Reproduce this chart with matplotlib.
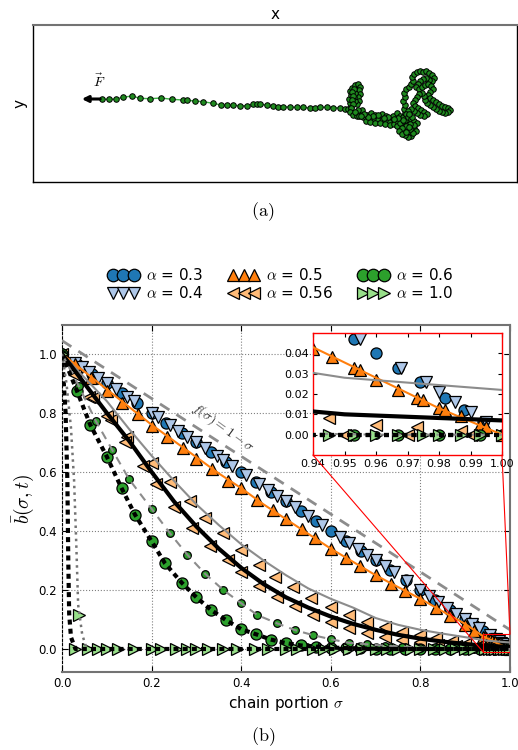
import matplotlib
matplotlib.use('Agg')
import matplotlib.pyplot as plt
from matplotlib.lines import Line2D
from matplotlib.patches import Rectangle, ConnectionPatch

plt.rcParams['mathtext.fontset'] = 'cm'

# ---- panel (a): snapshot of the pulled chain (arbitrary units) ----
stretch_x = [102, 109, 116, 123, 132, 140, 150, 161, 172, 183, 187, 195, 203, 213, 221, 227,
             233, 240, 247, 253, 257, 260, 267, 273, 278, 283, 290, 297, 303, 310, 315, 320,
             327, 333, 340, 345]
stretch_y = [99, 99.3, 99, 97.3, 96, 98.3, 98.7, 98, 99.3, 100, 100.3, 101, 101.7, 103.3, 105,
             105.3, 105.3, 105.7, 105.7, 104.3, 103.7, 104.3, 105, 106, 106.7, 106.7, 107, 107.3,
             107.3, 108, 107.7, 107.3, 107, 107.5, 108, 109]
coil = [(348, 109), (351, 107), (350, 103), (349, 99), (351, 95), (350, 91), (352, 88), (355, 85),
        (358, 84), (360, 87), (359, 90), (360, 94), (358, 97), (359, 101), (357, 104), (355, 101),
        (354, 97), (355, 93), (354, 89), (352, 92), (353, 96), (352, 100), (353, 104), (351, 108),
        (350, 112), (353, 115), (357, 116), (360, 113), (362, 110), (358, 110), (355, 112),
        (359, 116), (363, 117), (367, 115), (371, 113), (375, 115), (379, 117), (382, 114),
        (386, 116), (390, 119), (393, 116), (397, 113), (400, 116), (397, 119), (393, 121),
        (389, 122), (385, 120), (381, 121), (377, 119), (373, 118), (369, 119), (366, 121),
        (370, 122), (375, 123), (380, 123), (385, 124), (390, 125), (394, 124), (398, 122),
        (402, 124), (405, 127), (407, 130), (409, 133), (411, 136), (408, 137), (405, 135),
        (403, 132), (400, 129), (397, 126), (400, 123), (404, 121), (408, 122), (411, 125),
        (414, 128), (416, 131), (413, 133), (410, 129), (407, 125), (405, 120), (403, 117),
        (405, 113), (404, 109), (405, 105), (403, 101), (405, 97), (404, 93), (406, 89),
        (409, 87), (411, 84), (413, 81), (412, 77), (414, 74), (417, 72), (420, 71), (423, 72),
        (426, 71), (429, 73), (432, 75), (434, 78), (432, 81), (429, 80), (426, 78), (423, 79),
        (420, 81), (418, 84), (416, 87), (419, 89), (422, 87), (425, 85), (428, 84), (431, 86),
        (433, 89), (430, 92), (428, 95), (430, 98), (433, 100), (436, 102), (439, 104),
        (442, 106), (445, 107), (448, 108), (450, 110), (448, 112), (445, 113), (442, 112),
        (439, 111), (436, 109), (433, 107), (430, 105), (427, 103), (425, 100), (424, 96),
        (422, 93), (419, 94), (417, 97), (415, 100), (413, 103), (415, 106), (418, 108),
        (421, 110), (424, 112), (427, 114), (424, 116), (420, 115), (417, 113), (414, 111),
        (411, 109), (408, 111), (406, 114), (408, 117), (411, 119), (414, 121), (417, 123),
        (414, 125), (410, 124), (406, 126), (402, 128), (399, 131), (402, 134), (406, 132),
        (409, 127), (412, 117), (409, 114), (403, 120), (398, 118), (394, 119), (388, 117),
        (384, 118), (378, 115), (373, 116), (368, 117), (364, 114), (361, 116)]

# ---- panel (b): b(sigma, t) ----
sig03 = [0.0, 0.033, 0.067, 0.1, 0.133, 0.167, 0.2, 0.233, 0.267, 0.3, 0.333, 0.367, 0.4, 0.433,
         0.467, 0.5, 0.533, 0.567, 0.6, 0.633, 0.667, 0.7, 0.733, 0.767, 0.8, 0.833, 0.867, 0.9,
         0.92, 0.94, 0.953, 0.96, 0.967, 0.974, 0.982, 0.988, 0.994, 1.0]
b03 = [1.0, 0.967, 0.933, 0.9, 0.867, 0.833, 0.8, 0.767, 0.733, 0.7, 0.667, 0.633, 0.6, 0.567,
       0.533, 0.5, 0.467, 0.433, 0.4, 0.367, 0.333, 0.3, 0.267, 0.233, 0.2, 0.167, 0.133, 0.1,
       0.08, 0.06, 0.047, 0.04, 0.033, 0.026, 0.018, 0.012, 0.006, 0.0]

sig04 = [0.03, 0.045, 0.06, 0.08, 0.1, 0.12, 0.145, 0.16, 0.2, 0.215, 0.24, 0.26, 0.28, 0.3,
         0.32, 0.345, 0.36, 0.38, 0.41, 0.44, 0.46, 0.48, 0.5, 0.52, 0.55, 0.58, 0.62, 0.64,
         0.66, 0.68, 0.7, 0.72, 0.74, 0.77, 0.8, 0.82, 0.84, 0.86, 0.88, 0.9, 0.915, 0.93,
         0.955, 0.968, 0.976, 0.98, 0.985, 0.99, 0.995]
b04 = [0.97, 0.955, 0.94, 0.92, 0.9, 0.88, 0.855, 0.84, 0.8, 0.785, 0.76, 0.74, 0.72, 0.7,
       0.68, 0.655, 0.64, 0.62, 0.59, 0.56, 0.54, 0.52, 0.5, 0.48, 0.45, 0.42, 0.38, 0.36,
       0.34, 0.32, 0.3, 0.28, 0.26, 0.23, 0.2, 0.18, 0.16, 0.14, 0.12, 0.1, 0.085, 0.07,
       0.047, 0.033, 0.026, 0.021, 0.016, 0.011, 0.006]

sig05 = [0.0, 0.03, 0.065, 0.1, 0.135, 0.17, 0.2, 0.235, 0.27, 0.3, 0.335, 0.37, 0.4, 0.435,
         0.47, 0.5, 0.535, 0.565, 0.6, 0.635, 0.665, 0.7, 0.735, 0.765, 0.8, 0.835, 0.865, 0.9,
         0.92, 0.94, 0.946, 0.953, 0.955, 0.96, 0.967, 0.973, 0.975, 0.98, 0.982, 0.987, 0.993,
         0.995, 1.0]
b05 = [1.0, 0.965, 0.92, 0.875, 0.835, 0.795, 0.755, 0.72, 0.68, 0.645, 0.61, 0.57, 0.545,
       0.505, 0.47, 0.44, 0.405, 0.375, 0.34, 0.31, 0.28, 0.25, 0.22, 0.195, 0.17, 0.14, 0.113,
       0.08, 0.062, 0.042, 0.038, 0.033, 0.032, 0.027, 0.022, 0.018, 0.017, 0.013, 0.012,
       0.009, 0.005, 0.004, 0.0]
sig05_fit = [0.0, 0.05, 0.1, 0.15, 0.2, 0.25, 0.3, 0.35, 0.4, 0.45, 0.5, 0.55, 0.6, 0.65, 0.7,
             0.75, 0.8, 0.85, 0.9, 0.94, 0.96, 0.98, 1.0]
b05_fit = [1.0, 0.94, 0.88, 0.82, 0.76, 0.705, 0.65, 0.595, 0.545, 0.49, 0.44, 0.39, 0.34,
           0.295, 0.25, 0.21, 0.17, 0.127, 0.085, 0.043, 0.028, 0.013, 0.0]

sig056a = [0.0, 0.06, 0.11, 0.145, 0.2, 0.24, 0.285, 0.32, 0.36, 0.4, 0.44, 0.475, 0.515,
           0.555, 0.6, 0.64, 0.68, 0.72, 0.76, 0.8, 0.835, 0.87, 0.9, 0.93, 0.945, 0.96, 0.973,
           0.987, 1.0]
b056a = [1.0, 0.855, 0.776, 0.72, 0.63, 0.565, 0.5, 0.443, 0.393, 0.336, 0.285, 0.245, 0.21,
         0.172, 0.143, 0.115, 0.093, 0.076, 0.059, 0.047, 0.036, 0.026, 0.018, 0.011, 0.008,
         0.005, 0.004, 0.002, 0.0]
sig056b = [0.03, 0.07, 0.1, 0.14, 0.18, 0.21, 0.25, 0.29, 0.33, 0.37, 0.4, 0.44, 0.48, 0.52,
           0.56, 0.6, 0.64, 0.68, 0.72, 0.76, 0.8, 0.84, 0.88, 0.92, 0.95, 0.97, 0.99]
b056b = [0.93, 0.85, 0.79, 0.7, 0.62, 0.56, 0.48, 0.41, 0.35, 0.3, 0.26, 0.215, 0.175, 0.145,
         0.115, 0.09, 0.07, 0.055, 0.04, 0.03, 0.022, 0.015, 0.01, 0.005, 0.0, 0.0, 0.0]
sig_fit = [0.0, 0.05, 0.1, 0.15, 0.2, 0.25, 0.3, 0.35, 0.4, 0.45, 0.5, 0.55, 0.6, 0.65, 0.7,
           0.75, 0.8, 0.85, 0.9, 0.95, 1.0]
b056a_fit = [1.0, 0.92, 0.84, 0.745, 0.655, 0.57, 0.49, 0.42, 0.355, 0.3, 0.25, 0.205, 0.17,
             0.14, 0.105, 0.082, 0.065, 0.052, 0.04, 0.028, 0.022]
b056b_fit = [1.0, 0.9, 0.8, 0.705, 0.6, 0.5, 0.415, 0.34, 0.275, 0.22, 0.175, 0.14, 0.11,
             0.085, 0.065, 0.048, 0.035, 0.025, 0.017, 0.01, 0.007]

sig06a = [0.0, 0.033, 0.063, 0.1, 0.133, 0.163, 0.2, 0.23, 0.267, 0.3, 0.333, 0.366, 0.4,
          0.433, 0.466, 0.5, 0.533, 0.566, 0.6, 0.633, 0.666, 0.7, 0.733, 0.766, 0.8, 0.833,
          0.866, 0.9, 0.933, 0.953, 0.967, 0.98, 0.993]
b06a = [1.0, 0.876, 0.76, 0.652, 0.545, 0.455, 0.365, 0.29, 0.225, 0.175, 0.132, 0.098, 0.067,
        0.05, 0.032, 0.02, 0.012, 0.008, 0.005, 0.003, 0.002, 0.001, 0.0, 0.0, 0.0, 0.0, 0.0,
        0.0, 0.0, 0.0, 0.0, 0.0, 0.0]
sig06b = [0.0, 0.038, 0.075, 0.112, 0.15, 0.2, 0.24, 0.28, 0.32, 0.36, 0.4, 0.436, 0.48, 0.52,
          0.56, 0.6, 0.64, 0.68, 0.72, 0.76, 0.8, 0.84, 0.88, 0.92, 0.96, 1.0]
b06b = [1.0, 0.89, 0.774, 0.675, 0.575, 0.475, 0.394, 0.319, 0.254, 0.2, 0.155, 0.115, 0.087,
        0.064, 0.047, 0.033, 0.021, 0.016, 0.011, 0.008, 0.005, 0.003, 0.002, 0.001, 0.0, 0.0]

sig10 = [0.0, 0.038, 0.029, 0.059, 0.08, 0.1, 0.125, 0.16, 0.2, 0.22, 0.255, 0.28, 0.3, 0.325,
         0.36, 0.39, 0.43, 0.46, 0.5, 0.525, 0.56, 0.585, 0.61, 0.64, 0.67, 0.7, 0.725, 0.75,
         0.78, 0.8, 0.83, 0.855, 0.88, 0.9, 0.92, 0.945, 0.953, 0.96, 0.967, 0.975, 0.98,
         0.987, 0.993, 1.0]
b10 = [1.0, 0.115] + [0.0] * 42

sig10_fit = [0.0, 0.008, 0.012, 0.014, 0.016, 0.02, 0.03, 1.0]
b10_fit = [1.0, 0.8, 0.57, 0.3, 0.12, 0.04, 0.0, 0.0]
sig10_fit2 = [0.0, 0.01, 0.02, 0.027, 0.032, 0.036, 0.045, 0.055]
b10_fit2 = [1.0, 0.9, 0.75, 0.57, 0.35, 0.15, 0.05, 0.0]
sig_line = [0.0, 1.0]
b_line = [1.045, 0.065]

c03, c04, c05, c056, c06, c10 = '#1f77b4', '#aec7e8', '#ff7f0e', '#ffbb78', '#2ca02c', '#98df8a'


def draw_all(a):
    mk = dict(ls='none', mec='k', mew=0.9, zorder=2)
    a.plot(sig03, b03, 'o', ms=8, mfc=c03, **mk)
    a.plot(sig04, b04, 'v', ms=9, mfc=c04, **mk)
    a.plot(sig05, b05, '^', ms=9, mfc=c05, **mk)
    a.plot(sig056a, b056a, '<', ms=8, mfc=c056, **mk)
    a.plot(sig056b, b056b, '<', ms=8, mfc=c056, **mk)
    a.plot(sig06a, b06a, 'o', ms=8, mfc=c06, **mk)
    a.plot(sig06b, b06b, 'o', ms=5.5, mfc=c06, **mk)
    a.plot(sig10, b10, '>', ms=8, mfc=c10, **mk)

    a.plot(sig_line, b_line, color='0.55', lw=2, dashes=(4, 3), zorder=3)
    a.plot(sig05_fit, b05_fit, color=c05, lw=1.5, zorder=3)
    a.plot(sig_fit, b056a_fit, color='0.55', lw=1.5, zorder=3)
    a.plot(sig_fit, b056b_fit, color='k', lw=3, zorder=3)
    a.plot(sig06b, b06b, color='0.55', lw=1.5, dashes=(4, 3), zorder=3)
    a.plot(sig06a, b06a, color='k', lw=3, dashes=(1.2, 1.0), zorder=3)
    a.plot(sig10_fit, b10_fit, color='k', lw=3, dashes=(1.2, 1.0), zorder=3)
    a.plot(sig10_fit2, b10_fit2, color='0.45', lw=1.8, ls=':', zorder=3)


fig = plt.figure(figsize=(5.18, 7.5), dpi=100)

# panel (a)
ax_top = fig.add_axes([33 / 518, 1 - 182 / 750, 484 / 518, 157 / 750])
coil_x = [p[0] for p in coil]
coil_y = [p[1] for p in coil]
ax_top.plot(stretch_x + coil_x, stretch_y + coil_y, '-', color='#3cb043', lw=1, zorder=1)
ax_top.plot(stretch_x + coil_x, stretch_y + coil_y, 'o', ms=4, mfc='#1f8a1f', mec='k',
            mew=0.7, ls='none', zorder=2)
ax_top.annotate('', xy=(79, 99), xytext=(103, 99),
                arrowprops=dict(arrowstyle='-|>', lw=2.2, color='k', mutation_scale=9))
ax_top.text(99, 90, r'$\vec{F}$', fontsize=10, ha='center', va='bottom')
ax_top.set_xlim(33, 517)
ax_top.set_ylim(182, 25)
ax_top.set_xticks([])
ax_top.set_yticks([])
ax_top.set_xlabel('x', fontsize=11)
ax_top.xaxis.set_label_position('top')
ax_top.set_ylabel('y', fontsize=11)
for s in ['left', 'right', 'bottom']:
    ax_top.spines[s].set_color('k')
    ax_top.spines[s].set_linewidth(1)
ax_top.spines['top'].set_color('0.45')
ax_top.spines['top'].set_linewidth(1.5)
fig.text(263 / 518, 1 - 212 / 750, r'$\mathrm{(a)}$', fontsize=13, ha='center', va='center')

# panel (b)
ax = fig.add_axes([62 / 518, 1 - 672 / 750, 448 / 518, 347 / 750])
draw_all(ax)
ax.set_xlim(0, 1.0)
ax.set_ylim(-0.078, 1.098)
ax.set_xticks([0.0, 0.2, 0.4, 0.6, 0.8, 1.0])
ax.set_yticks([0.0, 0.2, 0.4, 0.6, 0.8, 1.0])
ax.grid(True, ls=':', color='0.5', lw=0.8)
ax.tick_params(direction='in', top=True, right=True, labelsize=8.5, length=4)
ax.set_xlabel(r'chain portion $\sigma$', fontsize=11, labelpad=3)
ax.set_ylabel(r'$\bar{b}(\sigma,t)$', fontsize=14, labelpad=2)
for s in ['top', 'right', 'bottom']:
    ax.spines[s].set_color('0.45')
    ax.spines[s].set_linewidth(1.5)
ax.spines['left'].set_color('k')
ax.spines['left'].set_linestyle((0, (2, 2)))
ax.text(0.36, 0.75, r'$f(\sigma) = 1-\sigma$', rotation=-36, fontsize=10, color='0.2',
        ha='center', va='center', zorder=4)

# zoom box and inset
ax.add_patch(Rectangle((0.94, -0.01), 0.06, 0.06, fill=False, ec='red', lw=0.8, zorder=5))
axins = fig.add_axes([313 / 518, 1 - 455 / 750, 189 / 518, 122 / 750])
draw_all(axins)
axins.set_xlim(0.94, 1.0)
axins.set_ylim(-0.01, 0.05)
axins.set_xticks([0.94, 0.95, 0.96, 0.97, 0.98, 0.99, 1.00])
axins.set_yticks([0.0, 0.01, 0.02, 0.03, 0.04])
axins.set_xticklabels(['0.94', '0.95', '0.96', '0.97', '0.98', '0.99', '1.00'])
axins.set_yticklabels(['0.00', '0.01', '0.02', '0.03', '0.04'])
axins.tick_params(direction='in', top=True, right=True, labelsize=8, length=3, pad=3)
for s in axins.spines.values():
    s.set_color('red')
    s.set_linewidth(1)
for xy_ins, xy_main in [((0.94, -0.01), (0.94, -0.01)), ((1.0, -0.01), (1.0, 0.05))]:
    con = ConnectionPatch(xyA=xy_ins, coordsA=axins.transData, xyB=xy_main,
                          coordsB=ax.transData, color='red', lw=0.8)
    fig.add_artist(con)

# legend
handles = [
    Line2D([], [], marker='o', ms=9, mfc=c03, mec='k', mew=0.9, ls='none'),
    Line2D([], [], marker='v', ms=9, mfc=c04, mec='k', mew=0.9, ls='none'),
    Line2D([], [], marker='^', ms=9, mfc=c05, mec='k', mew=0.9, ls='none'),
    Line2D([], [], marker='<', ms=9, mfc=c056, mec='k', mew=0.9, ls='none'),
    Line2D([], [], marker='o', ms=9, mfc=c06, mec='k', mew=0.9, ls='none'),
    Line2D([], [], marker='>', ms=9, mfc=c10, mec='k', mew=0.9, ls='none'),
]
labels = [r'$\alpha$ = 0.3', r'$\alpha$ = 0.4', r'$\alpha$ = 0.5', r'$\alpha$ = 0.56',
          r'$\alpha$ = 0.6', r'$\alpha$ = 1.0']
fig.legend(handles, labels, loc='center', bbox_to_anchor=(281 / 518, 1 - 284 / 750),
           ncol=3, numpoints=3, frameon=False, fontsize=11, handlelength=2.0,
           handletextpad=0.5, columnspacing=1.6, labelspacing=0.15)

fig.text(263 / 518, 1 - 737 / 750, r'$\mathrm{(b)}$', fontsize=13, ha='center', va='center')

fig.savefig('out.png', dpi=100)
